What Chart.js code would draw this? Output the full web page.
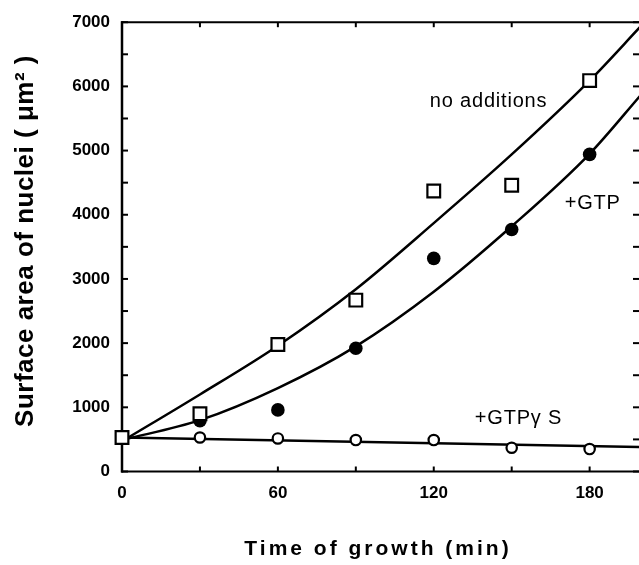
<!DOCTYPE html>
<html>
<head>
<meta charset="utf-8">
<script src="https://cdn.jsdelivr.net/npm/chart.js@4.4.0/dist/chart.umd.min.js"></script>
<style>
  body { margin: 0; background: #fff; }
  #wrap { width: 639px; height: 565px; }
</style>
</head>
<body>
<div id="wrap"><canvas id="chart"></canvas></div>
<script>
// measured points (min, um^2)
const minutes     = [0, 30, 60, 90, 120, 150, 180];
const noAdditions = [530, 900, 1980, 2670, 4370, 4460, 6090];
const plusGTP     = [530, 790, 960, 1920, 3320, 3770, 4940];
const plusGTPgS   = [530, 530, 515, 490, 490, 370, 350];

// fitted curves as drawn in the figure
const fitMinutes  = [0, 30, 60, 90, 120, 150, 180, 200];
const fitNoAdd    = [470, 1200, 1960, 2840, 3870, 4940, 6090, 6950];
const fitGTP      = [490, 800, 1300, 1950, 2800, 3820, 4950, 5880];
const fitGTPgSMin = [0, 200];
const fitGTPgS    = [530, 380];

// axes (the figure is cropped just short of 200 min)
const xMax    = 199;
const xTicks  = [0, 30, 60, 90, 120, 150, 180];
const xLabels = [0, 60, 120, 180];
const yTicks  = [0, 500, 1000, 1500, 2000, 2500, 3000, 3500, 4000, 4500, 5000, 5500, 6000, 6500, 7000];
const yLabels = [0, 1000, 2000, 3000, 4000, 5000, 6000, 7000];

// curve labels: [text, minute, value]
const curveLabels = [
  ['no additions', 118.5, 5770],
  ['+GTP', 170.4, 4170],
  ['+GTP\u03B3 S', 135.8, 830],
];

const FONT = '"Liberation Sans", Arial, Helvetica, sans-serif';
const pts = (xs, ys) => xs.map((x, i) => ({ x, y: ys[i] }));

function line(ctx, x1, y1, x2, y2) {
  ctx.beginPath();
  ctx.moveTo(x1, y1);
  ctx.lineTo(x2, y2);
  ctx.stroke();
}

const framePlugin = {
  id: 'frame',
  beforeDatasetsDraw(chart) {
    const { ctx, chartArea: a, scales: { x, y } } = chart;
    ctx.save();
    ctx.strokeStyle = '#000';
    ctx.lineWidth = 2;
    line(ctx, a.left - 1, a.bottom, a.right, a.bottom);
    line(ctx, a.left - 1, a.top, a.right, a.top);
    ctx.lineWidth = 2.5;
    line(ctx, a.left, a.top - 1, a.left, a.bottom + 1);
    ctx.lineWidth = 2;
    xTicks.forEach(v => {
      const px = x.getPixelForValue(v);
      line(ctx, px, a.bottom, px, a.bottom - 5);
      line(ctx, px, a.top, px, a.top + 5);
    });
    yTicks.forEach(v => {
      const py = y.getPixelForValue(v);
      line(ctx, a.left, py, a.left + 6, py);
      line(ctx, a.right, py, a.right - 6, py);
    });
    ctx.restore();
  },
  afterDraw(chart) {
    const { ctx, scales: { x, y } } = chart;
    ctx.save();
    ctx.fillStyle = '#000';
    ctx.textBaseline = 'middle';

    ctx.font = '20px ' + FONT;
    ctx.textAlign = 'left';
    ctx.letterSpacing = '0.8px';
    curveLabels.forEach(([t, mx, vy]) => {
      ctx.fillText(t, x.getPixelForValue(mx), y.getPixelForValue(vy));
    });

    // x title
    ctx.font = 'bold 21px ' + FONT;
    ctx.textAlign = 'center';
    ctx.letterSpacing = '3px';
    ctx.fillText('Time of growth (min)', 378, 549);

    // y title
    ctx.translate(26, 241);
    ctx.rotate(-Math.PI / 2);
    ctx.font = 'bold 26px ' + FONT;
    ctx.letterSpacing = '0.5px';
    ctx.fillText('Surface area of nuclei ( \u03BCm\u00B2 )', 0, 0);
    ctx.restore();
  }
};

new Chart(document.getElementById('chart'), {
  type: 'scatter',
  data: {
    datasets: [
      {
        data: pts(minutes, noAdditions), showLine: false, order: 0, clip: false,
        pointStyle: 'rect', pointRadius: 9, pointBorderWidth: 2.2,
        pointBorderColor: '#000', pointBackgroundColor: '#fff',
      },
      {
        data: pts(minutes, plusGTPgS), showLine: false, order: 1, clip: false,
        pointStyle: 'circle', pointRadius: 5.2, pointBorderWidth: 2.2,
        pointBorderColor: '#000', pointBackgroundColor: '#fff',
      },
      {
        data: pts(minutes, plusGTP), showLine: false, order: 2, clip: false,
        pointStyle: 'circle', pointRadius: 6.8, pointBorderWidth: 0,
        pointBackgroundColor: '#000',
      },
      {
        data: pts(fitMinutes, fitNoAdd), showLine: true, order: 3,
        borderColor: '#000', borderWidth: 2.5, pointRadius: 0, cubicInterpolationMode: 'monotone',
      },
      {
        data: pts(fitMinutes, fitGTP), showLine: true, order: 3,
        borderColor: '#000', borderWidth: 2.5, pointRadius: 0, cubicInterpolationMode: 'monotone',
      },
      {
        data: pts(fitGTPgSMin, fitGTPgS), showLine: true, order: 3,
        borderColor: '#000', borderWidth: 2.5, pointRadius: 0,
      },
    ],
  },
  options: {
    responsive: true,
    maintainAspectRatio: false,
    animation: false,
    devicePixelRatio: 1,
    layout: { autoPadding: false, padding: { top: 17, right: 0, left: 0, bottom: 0 } },
    plugins: { legend: { display: false }, tooltip: { enabled: false } },
    scales: {
      x: {
        type: 'linear', min: 0, max: xMax,
        afterFit: s => { s.height = 93.5; s.paddingLeft = 0; s.paddingRight = 0; },
        afterBuildTicks: s => { s.ticks = xLabels.map(v => ({ value: v })); },
        grid: { display: false, drawTicks: false }, border: { display: false },
        ticks: {
          color: '#000', padding: 12, autoSkip: false, maxRotation: 0,
          callback: v => String(v),
          font: { family: FONT, size: 17, weight: 'bold' },
        },
      },
      y: {
        type: 'linear', min: 0, max: 7000,
        afterFit: s => { s.width = 122; },
        afterBuildTicks: s => { s.ticks = yLabels.map(v => ({ value: v })); },
        grid: { display: false, drawTicks: false }, border: { display: false },
        ticks: {
          color: '#000', padding: 12, autoSkip: false,
          callback: v => String(v),
          font: { family: FONT, size: 17, weight: 'bold' },
        },
      },
    },
  },
  plugins: [framePlugin],
});
</script>
</body>
</html>
